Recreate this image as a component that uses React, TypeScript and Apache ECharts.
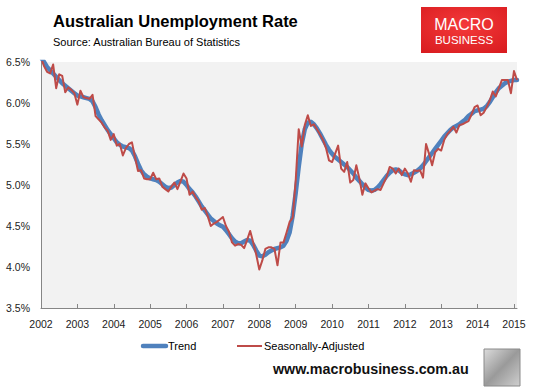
import React, { useEffect, useRef } from "react";
import * as echarts from "echarts";

const startYear = 2002;
const monthCount = 158; // Jan 2002 .. Feb 2015

const seasonallyAdjusted = [
  6.55, 6.45, 6.38, 6.36, 6.47, 6.18, 6.35, 6.33, 6.13, 6.19, 6.16, 6.12,
  5.98, 6.15, 6.07, 6.06, 6.05, 6.10, 5.84, 5.80, 5.76, 5.70, 5.66, 5.55,
  5.62, 5.48, 5.50, 5.36, 5.45, 5.50, 5.52, 5.34, 5.17, 5.18, 5.08, 5.07,
  5.07, 5.15, 5.07, 5.08, 4.98, 4.95, 4.92, 4.98, 5.03, 4.95, 5.04, 5.14,
  5.08, 4.88, 4.92, 4.85, 4.80, 4.70, 4.72, 4.62, 4.50, 4.53, 4.55, 4.58,
  4.61, 4.50, 4.43, 4.30, 4.26, 4.28, 4.27, 4.23, 4.33, 4.44, 4.30, 4.15,
  3.97, 4.08, 4.22, 4.24, 4.24, 4.22, 4.02, 4.30, 4.30, 4.42, 4.55, 4.60,
  5.05, 5.68, 5.47, 5.73, 5.85, 5.72, 5.74, 5.68, 5.62, 5.55, 5.45, 5.30,
  5.28, 5.38, 5.48, 5.20, 5.16, 5.28, 5.03, 5.06, 5.24, 5.08, 4.88, 5.02,
  4.96, 4.91, 4.93, 4.95, 4.94, 5.02, 5.10, 5.22, 5.20, 5.14, 5.20, 5.12,
  5.20, 5.14, 5.04, 5.18, 5.17, 5.18, 5.09, 5.50, 5.38, 5.24, 5.40, 5.44,
  5.42, 5.55, 5.62, 5.66, 5.71, 5.64, 5.73, 5.74, 5.76, 5.78, 5.86, 5.95,
  5.97, 5.85, 5.88, 5.95, 6.03, 6.14, 6.08, 6.18, 6.28, 6.28, 6.28, 6.12,
  6.39, 6.28,
];

const trend = [
  6.56, 6.50, 6.44, 6.40, 6.36, 6.32, 6.28, 6.24, 6.21, 6.18, 6.15, 6.12,
  6.09, 6.08, 6.07, 6.06, 6.05, 6.02, 5.95, 5.86, 5.79, 5.73, 5.67, 5.62,
  5.57, 5.52, 5.49, 5.47, 5.46, 5.45, 5.42, 5.35, 5.26, 5.18, 5.13, 5.10,
  5.08, 5.07, 5.06, 5.04, 5.01, 4.98, 4.96, 4.97, 5.00, 5.03, 5.05, 5.04,
  5.00, 4.95, 4.91, 4.86, 4.80, 4.74, 4.69, 4.64, 4.59, 4.56, 4.53, 4.51,
  4.49, 4.45, 4.40, 4.35, 4.31, 4.29, 4.29, 4.31, 4.33, 4.32, 4.27, 4.20,
  4.14, 4.13, 4.15, 4.18, 4.20, 4.22, 4.23, 4.24, 4.26, 4.32, 4.42, 4.62,
  4.90, 5.22, 5.50, 5.68, 5.76, 5.77, 5.74, 5.69, 5.63, 5.56, 5.49, 5.43,
  5.38, 5.34, 5.31, 5.28, 5.25, 5.22, 5.18, 5.14, 5.09, 5.05, 5.01, 4.97,
  4.94, 4.93, 4.94, 4.97, 5.01, 5.06, 5.11, 5.15, 5.18, 5.19, 5.18, 5.15,
  5.13, 5.12, 5.13, 5.15, 5.17, 5.20, 5.24, 5.29, 5.34, 5.39, 5.44, 5.49,
  5.54, 5.59, 5.63, 5.67, 5.70, 5.72, 5.74, 5.77, 5.80, 5.84, 5.87, 5.90,
  5.91, 5.92, 5.93, 5.96, 6.01, 6.07, 6.13, 6.18, 6.21, 6.24, 6.26, 6.27,
  6.28, 6.28,
];

const yMin = 3.5;
const yMax = 6.5;
const yStep = 0.5;

const months: string[] = [];
for (let i = 0; i < monthCount; i++) {
  const y = startYear + Math.floor(i / 12);
  const m = (i % 12) + 1;
  months.push(`${y}-${m < 10 ? "0" + m : m}`);
}

const FONT = "'Liberation Sans', Arial, sans-serif";

export default function App() {
  const ref = useRef<HTMLDivElement>(null);

  useEffect(() => {
    document.body.style.margin = "0";
    if (!ref.current) return;
    const chart = echarts.init(ref.current, undefined, { renderer: "svg" });
    const isYearStart = (idx: number) => idx % 12 === 0;
    const txt = (
      text: string,
      x: number,
      y: number,
      font: string,
      fill: string,
      align: string = "left"
    ) => ({
      type: "text",
      x,
      y,
      style: {
        text,
        font,
        fill,
        textAlign: align,
        align,
        textVerticalAlign: "middle",
        verticalAlign: "middle",
      },
    });
    chart.setOption({
      animation: false,
      backgroundColor: "#ffffff",
      textStyle: { fontFamily: FONT },
      grid: {
        left: 41,
        right: 18,
        top: 62,
        bottom: 79,
        show: true,
        backgroundColor: "#F2F2F2",
        borderWidth: 0,
      },
      xAxis: {
        type: "category",
        data: months,
        boundaryGap: false,
        axisLine: { show: true, lineStyle: { color: "#868686", width: 1 } },
        axisTick: {
          show: true,
          inside: true,
          length: 4,
          interval: (idx: number) => isYearStart(idx),
          lineStyle: { color: "#868686" },
        },
        axisLabel: {
          interval: (idx: number) => isYearStart(idx),
          formatter: (v: string) => v.slice(0, 4),
          color: "#222222",
          fontSize: 10.5,
          fontFamily: FONT,
          margin: 10,
        },
        splitLine: { show: false },
      },
      yAxis: {
        type: "value",
        min: yMin,
        max: yMax,
        interval: yStep,
        axisLine: { show: true, lineStyle: { color: "#868686", width: 1 } },
        axisTick: { show: false },
        splitLine: { show: false },
        axisLabel: {
          formatter: (v: number) => v.toFixed(1) + "%",
          color: "#222222",
          fontSize: 10.5,
          fontFamily: FONT,
          margin: 11,
        },
      },
      series: [
        {
          name: "Trend",
          type: "line",
          data: trend,
          symbol: "none",
          z: 2,
          lineStyle: { color: "#4F81BD", width: 4.5, cap: "round", join: "round" },
        },
        {
          name: "Seasonally-Adjusted",
          type: "line",
          data: seasonallyAdjusted,
          symbol: "none",
          z: 3,
          lineStyle: { color: "#BE4B48", width: 2, join: "round" },
        },
      ],
      graphic: [
        txt("Australian Unemployment Rate", 53, 21, `bold 16.5px ${FONT}`, "#000000"),
        txt("Source: Australian Bureau of Statistics", 53, 42, `11px ${FONT}`, "#000000"),
        {
          type: "rect",
          shape: { x: 421, y: 7, width: 86, height: 46 },
          style: {
            fill: new echarts.graphic.RadialGradient(0.5, 0.4, 0.8, [
              { offset: 0, color: "#F43A3A" },
              { offset: 1, color: "#D71A1E" },
            ]),
          },
        },
        txt("MACRO", 464, 24, `16px ${FONT}`, "#ffffff", "center"),
        txt("BUSINESS", 464, 39.5, `11.5px ${FONT}`, "#ffffff", "center"),
        {
          type: "line",
          shape: { x1: 143, y1: 346, x2: 166, y2: 346 },
          style: { stroke: "#4F81BD", lineWidth: 4.5, lineCap: "round" },
        },
        txt("Trend", 168, 346, `11px ${FONT}`, "#000000"),
        {
          type: "line",
          shape: { x1: 237, y1: 346, x2: 262, y2: 346 },
          style: { stroke: "#BE4B48", lineWidth: 2 },
        },
        txt("Seasonally-Adjusted", 264, 346, `11px ${FONT}`, "#000000"),
        txt("www.macrobusiness.com.au", 273, 369, `bold 14.3px ${FONT}`, "#111111"),
        {
          type: "rect",
          shape: { x: 484, y: 349, width: 36, height: 37 },
          style: {
            fill: new echarts.graphic.LinearGradient(0, 0, 1, 1, [
              { offset: 0, color: "#dcdcdc" },
              { offset: 0.5, color: "#9a9a9a" },
              { offset: 1, color: "#cfcfcf" },
            ]),
            stroke: "#8a8a8a",
            lineWidth: 1,
          },
        },
      ],
    });
    return () => chart.dispose();
  }, []);

  return <div ref={ref} style={{ width: 535, height: 387 }} />;
}
